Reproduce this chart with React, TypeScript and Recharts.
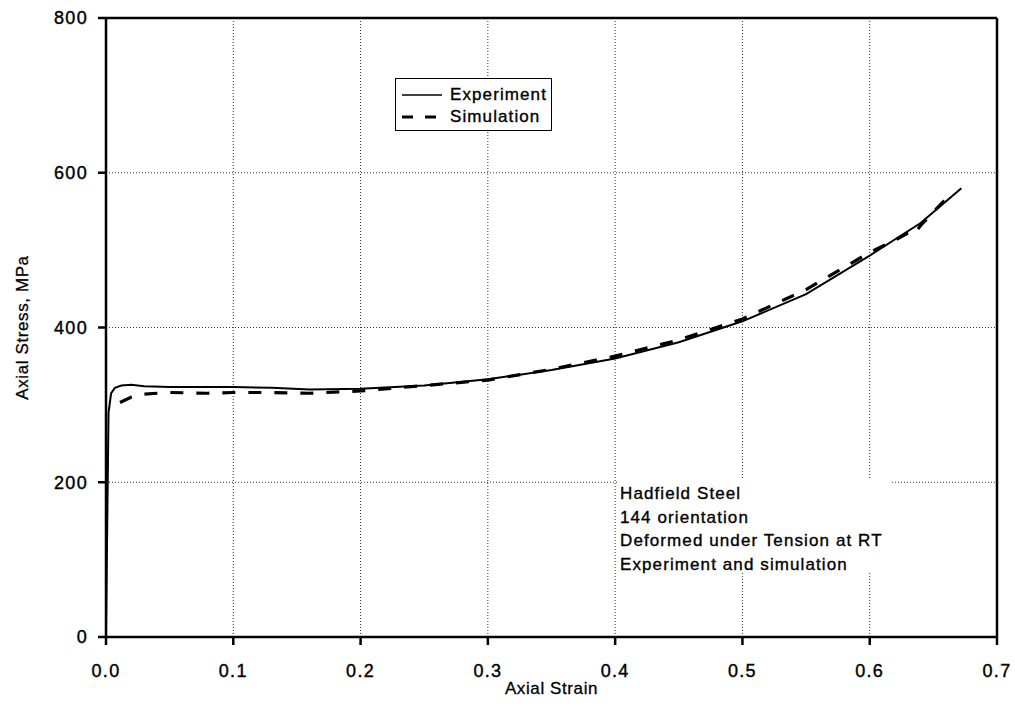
import { LineChart, Line, XAxis, YAxis, CartesianGrid, ReferenceLine } from "recharts";

// strain / stress
const expStrain = [0, 0.001, 0.002, 0.004, 0.007, 0.012, 0.02, 0.03, 0.05, 0.08, 0.1, 0.13, 0.16, 0.2, 0.25, 0.3, 0.35, 0.4, 0.45, 0.5, 0.55, 0.6, 0.64, 0.672];
const expStress = [0, 150, 290, 315, 322, 325, 326, 324, 323, 323, 323, 322, 320, 321, 325, 333, 345, 360, 381, 408, 443, 493, 535, 580];

const simStrain = [0.011, 0.02, 0.03, 0.05, 0.08, 0.1, 0.13, 0.16, 0.2, 0.25, 0.3, 0.35, 0.4, 0.45, 0.5, 0.55, 0.6, 0.62, 0.63, 0.635, 0.64, 0.665];
const simStress = [303, 310, 314, 316, 315, 316, 316, 315, 318, 325, 332, 346, 363, 384, 411, 449, 497, 513, 522, 520, 532, 575];

const xTicks = [0, 0.1, 0.2, 0.3, 0.4, 0.5, 0.6, 0.7];
const yTicks = [0, 200, 400, 600, 800];

const noteLines = ["Hadfield Steel", "144 orientation", "Deformed under Tension at RT", "Experiment and simulation"];

const font = "'Liberation Sans', Arial, sans-serif";
// the scan is a little heavier and wider than plain Arial
const htmlText = { fontSize: 17, letterSpacing: 1.1, color: "#000", whiteSpace: "nowrap" as const, WebkitTextStroke: "0.35px #000" };

export default function App() {
  const expData = expStrain.map((s, i) => ({ strain: s, stress: expStress[i] }));
  const simData = simStrain.map((s, i) => ({ strain: s, stress: simStress[i] }));
  const tick = { fill: "#000", stroke: "#000", strokeWidth: 0.4, fontSize: 18, fontFamily: font, letterSpacing: 1.3 };
  const axisLabel = { fill: "#000", stroke: "#000", strokeWidth: 0.3, fontSize: 17, fontFamily: font, letterSpacing: 0.6 };

  return (
    <div style={{ position: "absolute", left: 0, top: 0, width: 1015, height: 711, background: "#fff", fontFamily: font }}>
      <LineChart width={1015} height={711} margin={{ top: 18, right: 18, bottom: 0, left: 0 }}>
        <CartesianGrid stroke="#333" strokeDasharray="1 2" />
        <XAxis
          type="number" dataKey="strain" domain={[0, 0.7]} ticks={xTicks}
          tickFormatter={(v: number) => v.toFixed(1)} allowDuplicatedCategory={false}
          height={74} tickSize={8} tickMargin={19} tick={tick}
          axisLine={{ stroke: "#000", strokeWidth: 2.5 }} tickLine={{ stroke: "#000", strokeWidth: 2.5 }}
          label={{ value: "Axial Strain", position: "insideBottom", offset: 17, ...axisLabel }}
        />
        <YAxis
          type="number" domain={[0, 800]} ticks={yTicks} width={106}
          tickSize={8} tickMargin={10} tick={tick}
          axisLine={{ stroke: "#000", strokeWidth: 2.5 }} tickLine={{ stroke: "#000", strokeWidth: 2.5 }}
          label={{ value: "Axial Stress, MPa", angle: -90, position: "insideLeft", offset: 22, ...axisLabel, style: { textAnchor: "middle" } }}
        />
        <ReferenceLine y={800} stroke="#000" strokeWidth={2.5} />
        <ReferenceLine x={0.7} stroke="#000" strokeWidth={2.5} />
        <Line data={expData} dataKey="stress" type="linear" stroke="#000" strokeWidth={2} dot={false} isAnimationActive={false} />
        <Line data={simData} dataKey="stress" type="linear" stroke="#000" strokeWidth={3.2} strokeDasharray="13 13" dot={false} isAnimationActive={false} />
      </LineChart>

      {/* legend box */}
      <div style={{ position: "absolute", left: 395, top: 78, width: 155, height: 51, border: "1.5px solid #000", background: "#fff" }}>
        {[{ label: "Experiment", dash: undefined, w: 1.6 }, { label: "Simulation", dash: "11 12", w: 3 }].map((r, i) => (
          <div key={r.label} style={{ position: "absolute", left: 6, top: 5 + i * 22, height: 22, display: "flex", alignItems: "center" }}>
            <svg width={40} height={10} style={{ marginRight: 8 }}>
              <line x1={0} y1={5} x2={40} y2={5} stroke="#000" strokeWidth={r.w} strokeDasharray={r.dash} />
            </svg>
            <span style={htmlText}>{r.label}</span>
          </div>
        ))}
      </div>

      {/* annotation */}
      <div style={{ position: "absolute", left: 617, top: 478, width: 275, height: 94, background: "#fff", padding: "4px 0 0 3px", boxSizing: "border-box" }}>
        {noteLines.map((t) => (
          <div key={t} style={{ ...htmlText, lineHeight: "23.5px" }}>{t}</div>
        ))}
      </div>
    </div>
  );
}
